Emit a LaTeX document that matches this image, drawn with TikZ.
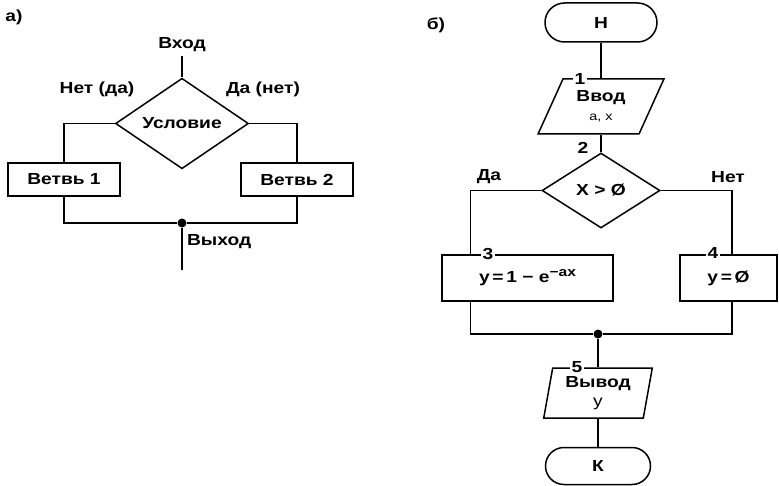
\documentclass[tikz,border=0pt]{standalone}
\usepackage{fontspec}
\setmainfont{Liberation Sans}[FakeStretch=1.2]
\usetikzlibrary{shapes.geometric,shapes.misc,positioning,calc}

\begin{document}
\begin{tikzpicture}[x=1pt,y=-1pt,line width=1.5pt,
    font=\fontsize{16}{18}\selectfont\bfseries,
    block/.style={draw,rectangle,inner sep=0pt},
    cond/.style={draw,diamond,inner sep=0pt},
    term/.style={draw,rounded rectangle,inner sep=0pt},
    io/.style={draw,trapezium,trapezium stretches=true,inner sep=0pt,align=center},
    num/.style={fill=white,inner sep=1.5pt},
    dot/.style={circle,fill,inner sep=0pt,minimum size=9pt}]
    \useasboundingbox (0,0) rectangle (779,486);

    % a) branching
    \node (lbla) at (14,17) {а)};
    \node (vhod) at (182,45) {Вход};
    \node[cond,minimum width=133,minimum height=84] (usl) at (182,123.5) {Условие};
    \node (net1) at (97,89) {Нет (да)};
    \node (da1) at (263,89) {Да (нет)};
    \node[block,minimum width=112,minimum height=33] (vetv1) at (64,179.5) {Ветвь 1};
    \node[block,minimum width=112,minimum height=33] (vetv2) at (297,179.5) {Ветвь 2};
    \node[dot] (dot1) at (182,223) {};
    \coordinate (exit1) at (182,270);
    \node[right] (vyhod) at (183,242) {Выход};

    \draw (vhod) -- (usl.north);
    \draw (usl.west) -| (vetv1.north);
    \draw (usl.east) -| (vetv2.north);
    \draw (vetv1.south) |- (dot1) -| (vetv2.south);
    \draw (dot1) -- (exit1);

    % b) example
    \node (lblb) at (436,25) {б)};
    \node[term,minimum width=112,minimum height=39] (nach) at (601,22.5) {Н};
    \node[io,minimum width=126,minimum height=55,
          trapezium left angle=63,trapezium right angle=117] (vvod) at (601,106.5)
          {Ввод\\[1pt]{\mdseries\fontsize{12}{14}\selectfont а, х}};
    \node[num] (n1) at (580,79) {1};
    \node[cond,minimum width=118,minimum height=75] (usl2) at (601,190.5) {X > Ø};
    \node (n2) at (583,148) {2};
    \node (da2) at (489,177) {Да};
    \node (net2) at (728,177) {Нет};
    \node[block,minimum width=171,minimum height=46] (b3) at (527.5,278)
          {y\,=\,1 − e\raisebox{.7ex}{\fontsize{13}{15}\selectfont −ax}};
    \node[num] (n3) at (488,254) {3};
    \node[block,minimum width=97,minimum height=46] (b4) at (728.5,278) {y\,=\,Ø};
    \node[num] (n4) at (713,253) {4};
    \node[dot] (dot2) at (598,334) {};
    \node[io,minimum width=109,minimum height=50,
          trapezium left angle=79,trapezium right angle=101] (vyvod) at (598,393)
          {Вывод\\[1pt]{\mdseries y}};
    \node[num] (n5) at (577,367) {5};
    \node[term,minimum width=105,minimum height=37] (kon) at (598,466) {К};

    \draw (nach.south) -- (nach.south |- vvod.north);
    \draw (vvod.south -| usl2.north) -- (usl2.north);
    \draw (usl2.west) -| ($(b3.north west)+(29,0)$);
    \draw (usl2.east) -| ($(b4.north)+(3.5,0)$);
    \draw ($(b3.south west)+(29,0)$) |- (dot2) -| ($(b4.south)+(3.5,0)$);
    \draw (dot2) -- (dot2 |- vyvod.north);
    \draw (kon.north |- vyvod.south) -- (kon.north);
\end{tikzpicture}
\end{document}
